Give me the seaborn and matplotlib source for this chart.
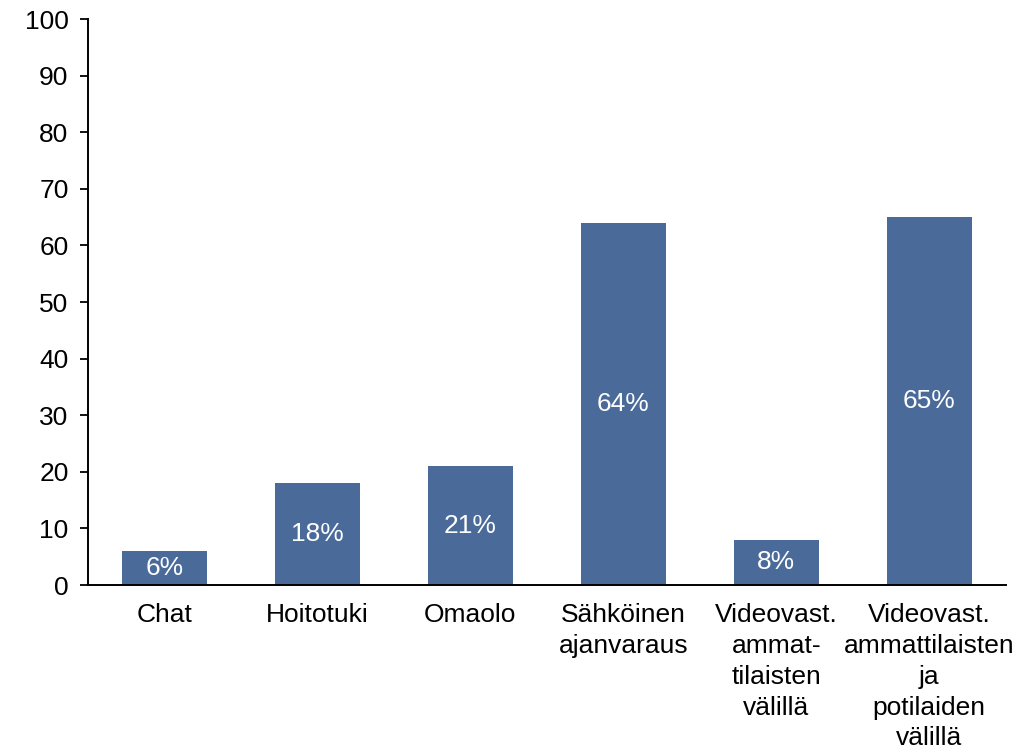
"""
Bar chart: share of respondents using each digital service (percent).
"""

import pandas as pd
import seaborn as sns
import matplotlib.pyplot as plt

categories = [
    "Chat",
    "Hoitotuki",
    "Omaolo",
    "Sähköinen\najanvaraus",
    "Videovast.\nammat-\ntilaisten\nvälillä",
    "Videovast.\nammattilaisten\nja\npotilaiden\nvälillä",
]
values = [6, 18, 21, 64, 8, 65]

BAR_COLOR = "#4A6A9A"
FONT_SIZE = 19

df = pd.DataFrame({"category": categories, "value": values})

sns.set_style("ticks")
plt.rcParams["font.family"] = ["Liberation Sans", "DejaVu Sans"]
plt.rcParams["text.color"] = "black"
plt.rcParams["xtick.color"] = "black"
plt.rcParams["ytick.color"] = "black"

fig = plt.figure(figsize=(10.19, 7.51), dpi=100)
ax = fig.add_axes([0.0864, 0.221, 0.9006, 0.7537])

sns.barplot(data=df, x="category", y="value", color=BAR_COLOR,
            width=0.556, saturation=1, linewidth=0, ax=ax)

# value labels centred inside each bar
ax.bar_label(ax.containers[0], labels=[f"{v}%" for v in values],
             label_type="center", color="white", fontsize=FONT_SIZE)

ax.set_ylim(0, 100)
ax.set_xlim(-0.5, len(categories) - 0.5)
ax.set_yticks(range(0, 101, 10))
ax.set_xlabel("")
ax.set_ylabel("")

ax.tick_params(axis="y", labelsize=FONT_SIZE, length=6, width=1.3,
               direction="out", colors="black", pad=8)
ax.tick_params(axis="x", labelsize=FONT_SIZE, length=0, pad=13,
               colors="black")
for lbl in ax.get_xticklabels():
    lbl.set_linespacing(1.36)

for side in ("left", "bottom"):
    ax.spines[side].set_linewidth(1.4)
    ax.spines[side].set_color("black")
ax.spines["top"].set_visible(False)
ax.spines["right"].set_visible(False)

fig.savefig("out.png", dpi=100)
plt.close(fig)
